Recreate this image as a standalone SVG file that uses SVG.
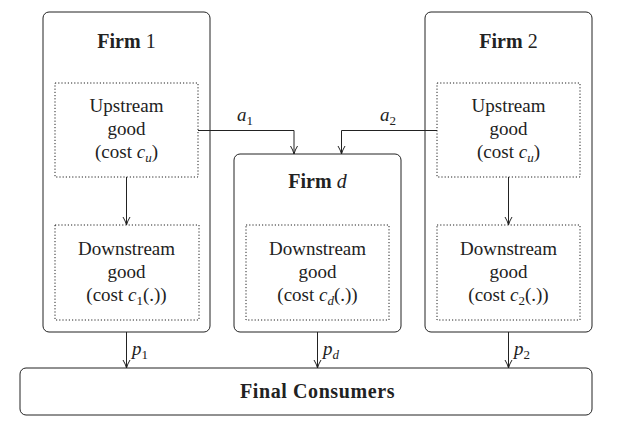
<svg xmlns="http://www.w3.org/2000/svg" width="619" height="426" viewBox="0 0 619 426">
<style>
.box{fill:#fff;stroke:#222;stroke-width:1}
.dot{fill:none;stroke:#222;stroke-width:1;stroke-dasharray:1.2 2}
.t{font-family:"Liberation Serif",serif;font-size:19px;fill:#222;text-anchor:middle}
.h{font-size:20px}
.b{font-weight:bold}
.i{font-style:italic}
.s{font-size:13px}
.lbl{font-family:"Liberation Serif",serif;font-size:19px;fill:#222}
.c{fill:none;stroke:#222;stroke-width:1}
</style>
<defs>
<marker id="ah" viewBox="0 0 10 10" refX="10" refY="5" markerWidth="10" markerHeight="10" markerUnits="userSpaceOnUse" orient="auto">
<path d="M2,1.5 Q6,4 10,5 Q6,6 2,8.5" fill="none" stroke="#222" stroke-width="1"/>
</marker>
</defs>
<g id="firm1">
<rect class="box" x="43" y="12" width="167" height="320" rx="6"/>
<text class="t h" x="126.5" y="48"><tspan class="b">Firm</tspan> 1</text>
</g>
<g id="firm1-upstream">
<rect class="dot" x="55" y="83" width="143" height="94"/>
<text class="t" x="126.5" y="112">Upstream</text>
<text class="t" x="126.5" y="135">good</text>
<text class="t" x="126.5" y="158">(cost <tspan class="i">c</tspan><tspan class="i s" dy="4">u</tspan><tspan dy="-4">)</tspan></text>
</g>
<g id="firm1-downstream">
<rect class="dot" x="55" y="225" width="144" height="95"/>
<text class="t" x="126.5" y="255">Downstream</text>
<text class="t" x="126.5" y="278">good</text>
<text class="t" x="126.5" y="301">(cost <tspan class="i">c</tspan><tspan class="s" dy="4">1</tspan><tspan dy="-4">(.))</tspan></text>
</g>
<g id="firmd">
<rect class="box" x="234" y="154" width="167" height="178" rx="6"/>
<text class="t h" x="317.5" y="188"><tspan class="b">Firm</tspan> <tspan class="i">d</tspan></text>
</g>
<g id="firmd-downstream">
<rect class="dot" x="246" y="225" width="143" height="95"/>
<text class="t" x="317.5" y="255">Downstream</text>
<text class="t" x="317.5" y="278">good</text>
<text class="t" x="317.5" y="301">(cost <tspan class="i">c</tspan><tspan class="i s" dy="4">d</tspan><tspan dy="-4">(.))</tspan></text>
</g>
<g id="firm2">
<rect class="box" x="425" y="12" width="167" height="320" rx="6"/>
<text class="t h" x="508.5" y="48"><tspan class="b">Firm</tspan> 2</text>
</g>
<g id="firm2-upstream">
<rect class="dot" x="437" y="83" width="143" height="94"/>
<text class="t" x="508.5" y="112">Upstream</text>
<text class="t" x="508.5" y="135">good</text>
<text class="t" x="508.5" y="158">(cost <tspan class="i">c</tspan><tspan class="i s" dy="4">u</tspan><tspan dy="-4">)</tspan></text>
</g>
<g id="firm2-downstream">
<rect class="dot" x="437" y="225" width="143" height="95"/>
<text class="t" x="508.5" y="255">Downstream</text>
<text class="t" x="508.5" y="278">good</text>
<text class="t" x="508.5" y="301">(cost <tspan class="i">c</tspan><tspan class="s" dy="4">2</tspan><tspan dy="-4">(.))</tspan></text>
</g>
<g id="consumers">
<rect class="box" x="20" y="368" width="572" height="47" rx="6"/>
<text class="t h b" x="317.5" y="398" letter-spacing="0.6">Final Consumers</text>
</g>
<g id="connectors">
<path class="c" d="M126.5,177 V225" marker-end="url(#ah)"/>
<path class="c" d="M508.5,177 V225" marker-end="url(#ah)"/>
<path class="c" d="M198,130.5 H294 V154" marker-end="url(#ah)"/>
<path class="c" d="M437,130.5 H341.5 V154" marker-end="url(#ah)"/>
<path class="c" d="M126.5,332 V368" marker-end="url(#ah)"/>
<path class="c" d="M317.5,332 V368" marker-end="url(#ah)"/>
<path class="c" d="M508.5,332 V368" marker-end="url(#ah)"/>
<text class="lbl" x="237" y="121"><tspan class="i">a</tspan><tspan class="s" dy="4">1</tspan></text>
<text class="lbl" x="380" y="121"><tspan class="i">a</tspan><tspan class="s" dy="4">2</tspan></text>
<text class="lbl" x="132" y="355"><tspan class="i">p</tspan><tspan class="s" dy="4">1</tspan></text>
<text class="lbl" x="323" y="355"><tspan class="i">p</tspan><tspan class="i s" dy="4">d</tspan></text>
<text class="lbl" x="514" y="355"><tspan class="i">p</tspan><tspan class="s" dy="4">2</tspan></text>
</g>
</svg>
